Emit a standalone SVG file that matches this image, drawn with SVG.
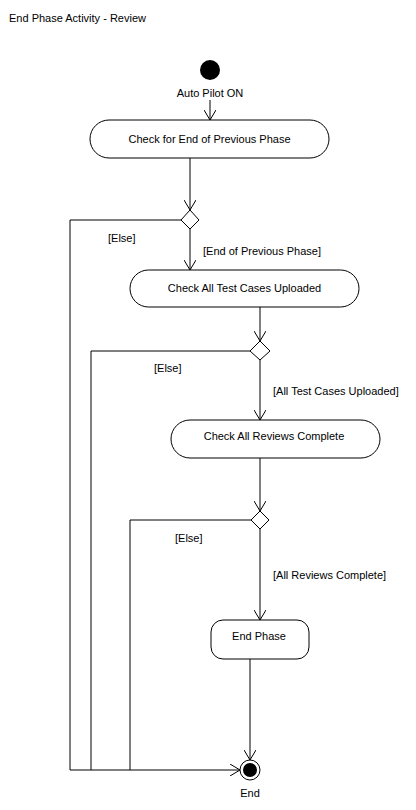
<svg xmlns="http://www.w3.org/2000/svg" width="416" height="810" viewBox="0 0 416 810">
<defs>
<marker id="arr" markerWidth="10" markerHeight="12" refX="10" refY="6" orient="auto" markerUnits="userSpaceOnUse">
<path d="M0,0 L10,6 L0,12" fill="none" stroke="#000" stroke-width="1"/>
</marker>
<style>
text{font-family:"Liberation Sans",Arial,sans-serif;font-size:11px;fill:#000}
.c{text-anchor:middle}
.n{fill:#fff;stroke:#000;stroke-width:1}
.e{fill:none;stroke:#000;stroke-width:1}
</style>
</defs>
<rect width="416" height="810" fill="#fff"/>
<text x="9" y="22">End Phase Activity - Review</text>
<g id="start">
<circle cx="210" cy="70" r="10" fill="#000"/>
<text class="c" x="210" y="97">Auto Pilot ON</text>
</g>
<g id="a1">
<rect class="n" x="90" y="120" width="239" height="38" rx="19"/>
<text class="c" x="209.5" y="143">Check for End of Previous Phase</text>
</g>
<g id="d1">
<polygon class="n" points="190,210 199,220 190,229 181,220"/>
</g>
<g id="a2">
<rect class="n" x="130" y="270" width="229" height="37" rx="18.5"/>
<text class="c" x="244.5" y="292">Check All Test Cases Uploaded</text>
</g>
<g id="d2">
<polygon class="n" points="260,341 270,351 260,360 250,351"/>
</g>
<g id="a3">
<rect class="n" x="171" y="420" width="209" height="38" rx="19"/>
<text class="c" x="274" y="440">Check All Reviews Complete</text>
</g>
<g id="d3">
<polygon class="n" points="260,511 269,520 260,529 251,520"/>
</g>
<g id="a4">
<rect class="n" x="211" y="620" width="98" height="39" rx="12"/>
<text class="c" x="259" y="640">End Phase</text>
</g>
<g id="end">
<circle cx="250" cy="770" r="10" fill="#fff" stroke="#000"/>
<circle cx="250" cy="770" r="7" fill="#000"/>
<text class="c" x="250" y="797">End</text>
</g>
<g id="connectors">
<line class="e" x1="210" y1="100" x2="210" y2="120" marker-end="url(#arr)"/>
<line class="e" x1="190" y1="158" x2="190" y2="210" marker-end="url(#arr)"/>
<line class="e" x1="190" y1="229" x2="190" y2="270" marker-end="url(#arr)"/>
<polyline class="e" points="181,220 70,220 70,770"/>
<text x="108" y="242">[Else]</text>
<text x="203" y="255">[End of Previous Phase]</text>
<line class="e" x1="260" y1="307" x2="260" y2="341" marker-end="url(#arr)"/>
<line class="e" x1="260" y1="360" x2="260" y2="420" marker-end="url(#arr)"/>
<polyline class="e" points="250,351 91,351 91,770"/>
<text x="154" y="372">[Else]</text>
<text x="273" y="395">[All Test Cases Uploaded]</text>
<line class="e" x1="260" y1="458" x2="260" y2="511" marker-end="url(#arr)"/>
<line class="e" x1="260" y1="529" x2="260" y2="620" marker-end="url(#arr)"/>
<polyline class="e" points="251,520 130,520 130,770"/>
<text x="175" y="542">[Else]</text>
<text x="273" y="579">[All Reviews Complete]</text>
<line class="e" x1="250" y1="659" x2="250" y2="760" marker-end="url(#arr)"/>
<line class="e" x1="70" y1="770" x2="240" y2="770" marker-end="url(#arr)"/>
</g>
</svg>
